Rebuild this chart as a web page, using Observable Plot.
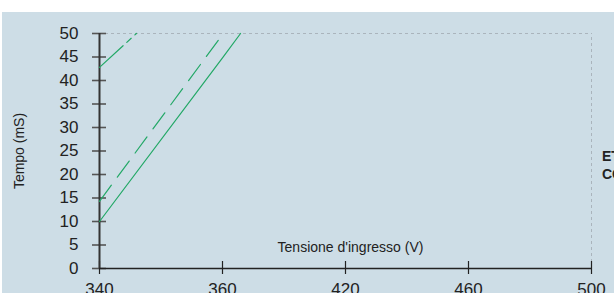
<!DOCTYPE html>
<html><head><meta charset="utf-8">
<script src="https://cdn.jsdelivr.net/npm/d3@7"></script>
<script src="https://cdn.jsdelivr.net/npm/@observablehq/plot@0.6"></script>
<style>
html,body{margin:0;padding:0;background:#fff;}
body{width:614px;height:293px;overflow:hidden;position:relative;font-family:"Liberation Sans",Arial,sans-serif;}
#panel{position:absolute;left:2px;top:12px;width:612px;height:281px;background:#cddde6;overflow:hidden;}
#legend{position:absolute;left:600px;top:135px;font:bold 14px "Liberation Sans",Arial,sans-serif;color:#222;line-height:18px;white-space:nowrap;}
</style></head>
<body>
<div id="panel"><div id="chart"></div><div id="legend">ETÀ<br>CON</div></div>
<script>
const xTicks = [340, 360, 420, 460, 500];
const yTicks = [0, 5, 10, 15, 20, 25, 30, 35, 40, 45, 50];
const solidV = [340, 360, 368.8];
const solidT = [10, 44.8, 50];
const dashedV = [340, 360.4];
const dashedT = [14.3, 50];
const dashDotV = [340, 346];
const dashDotT = [42.8, 50];
const xLabel = "Tensione d'ingresso (V)";
const yLabel = "Tempo (mS)";

const green = "#22a866";
const toPts = (xs, ys) => xs.map((v, i) => ({v, t: ys[i]}));

const chart = Plot.plot({
  width: 612, height: 281,
  marginLeft: 97, marginRight: 23, marginTop: 21, marginBottom: 25,
  style: {background: "transparent", fontFamily: "'Liberation Sans',Arial,sans-serif", fontSize: "16px", color: "#222", overflow: "visible"},
  x: {type: "linear", domain: xTicks, range: [97, 220, 343, 466, 589], axis: null},
  y: {domain: [0, 50], axis: null},
  marks: [
    Plot.ruleY([50], {x1: 340, x2: 500, stroke: "#aab4bc", strokeDasharray: "3,3", strokeWidth: 1}),
    Plot.ruleX([500], {y1: 0, y2: 50, stroke: "#aab4bc", strokeDasharray: "3,3", strokeWidth: 1}),
    Plot.axisY(yTicks, {anchor: "left", tickSize: 14, dx: 7, tickPadding: 14, stroke: "#555", strokeWidth: 1.6, fontSize: 17, fill: "#222", label: null}),
    Plot.axisX(xTicks, {anchor: "bottom", tickSize: 13, dy: -7, tickPadding: 8, stroke: "#222", strokeWidth: 1.2, fontSize: 17, fill: "#222", tickFormat: d => String(d), label: null}),
    Plot.ruleX([340], {y1: 0, y2: 50, stroke: "#333", strokeWidth: 2}),
    Plot.ruleY([0], {x1: 340, x2: 500, stroke: "#222", strokeWidth: 1.5}),
    Plot.line(toPts(solidV, solidT), {x: "v", y: "t", stroke: green, strokeWidth: 1.2}),
    Plot.line(toPts(dashedV, dashedT), {x: "v", y: "t", stroke: green, strokeWidth: 1.2, strokeDasharray: "20,10"}),
    Plot.line(toPts(dashDotV, dashDotT), {x: "v", y: "t", stroke: green, strokeWidth: 1.2, strokeDasharray: "32,5,6,5"}),
    Plot.text([xLabel], {frameAnchor: "bottom", text: d => d, textAnchor: "middle", lineAnchor: "bottom", dx: 5, dy: -17, fontSize: 14, fill: "#222"}),
    Plot.text([yLabel], {frameAnchor: "left", text: d => d, rotate: -90, textAnchor: "middle", lineAnchor: "middle", dx: -80, fontSize: 14, fill: "#222"})
  ]
});
document.getElementById("chart").appendChild(chart);
</script>
</body></html>
